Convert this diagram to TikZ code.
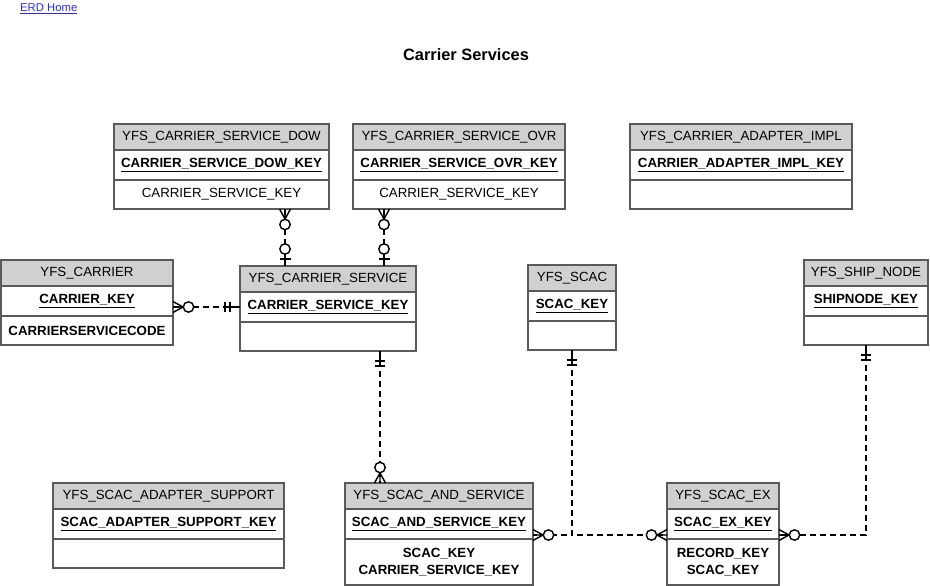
\documentclass[tikz,border=0pt]{standalone}
\usepackage{fontspec}
\setmainfont{Liberation Sans}
\usetikzlibrary{positioning}
\definecolor{headgray}{RGB}{208,208,208}
\definecolor{framegray}{RGB}{90,90,90}
\definecolor{linkblue}{RGB}{40,40,255}

% entity: name, top left, width, header, key, attributes, attribute height
\newcommand{\entity}[7]{%
  \node[enthead, minimum width=#3, anchor=north west] (#1) at (#2) {#4};
  \node[entkey, minimum width=#3, below=0pt of #1] (#1-key) {\underline{#5}};
  \node[entattr, minimum width=#3, minimum height=#7, below=0pt of #1-key] (#1-attr) {#6};}

% relationship ends: point on the entity edge, direction away from the entity
\newcommand{\zeromany}[2]{%
  \begin{scope}[shift={(#1)}, rotate=#2, x=1pt, y=1pt, markline]
    \draw (0,5.5) -- (10,0) -- (0,-5.5) (0,0) -- (10,0);
    \draw[fill=white] (15.5,0) circle (5.2pt);
  \end{scope}}
\newcommand{\zeroone}[2]{%
  \begin{scope}[shift={(#1)}, rotate=#2, x=1pt, y=1pt, markline]
    \draw (0,0) -- (12,0) (7,-5.5) -- (7,5.5);
    \draw[fill=white] (17,0) circle (5.2pt);
  \end{scope}}
\newcommand{\oneone}[2]{%
  \begin{scope}[shift={(#1)}, rotate=#2, x=1pt, y=1pt, markline]
    \draw (0,0) -- (16,0) (10,-5) -- (10,5) (15,-5) -- (15,5);
  \end{scope}}

\begin{document}
\begin{tikzpicture}[
    x=1pt, y=-1pt,
    enthead/.style={rectangle, draw=framegray, fill=headgray, line width=1.2pt, minimum height=26pt, inner sep=2pt, outer sep=0pt, font=\fontsize{13.3}{16}\selectfont},
    entkey/.style={rectangle, draw=framegray, fill=white, line width=1.2pt, minimum height=30pt, inner sep=2pt, outer sep=0pt, font=\fontsize{13.3}{16}\selectfont\bfseries},
    entattr/.style={rectangle, draw=framegray, fill=white, line width=1.2pt, inner sep=2pt, outer sep=0pt, align=center, font=\fontsize{13.3}{17}\selectfont},
    rel/.style={line width=1.5pt, dash pattern=on 6pt off 4pt},
    markline/.style={solid, line width=1.4pt}
]
    \useasboundingbox (0,0) rectangle (930,586);

    % Link and title
    \node[anchor=west, inner sep=0pt, text=linkblue, font=\fontsize{11.3}{13}\selectfont] (home) at (20,9) {\underline{ERD Home}};
    \node[font=\fontsize{16.4}{20}\selectfont\bfseries] (title) at (466,55) {Carrier Services};

    % Entities
    \entity{dow}{114,124}{215pt}{YFS\_CARRIER\_SERVICE\_DOW}{CARRIER\_SERVICE\_DOW\_KEY}{CARRIER\_SERVICE\_KEY}{29pt}
    \entity{ovr}{353,124}{212pt}{YFS\_CARRIER\_SERVICE\_OVR}{CARRIER\_SERVICE\_OVR\_KEY}{CARRIER\_SERVICE\_KEY}{29pt}
    \entity{impl}{630,124}{222pt}{YFS\_CARRIER\_ADAPTER\_IMPL}{CARRIER\_ADAPTER\_IMPL\_KEY}{}{29pt}
    \entity{carrier}{1,260}{172pt}{YFS\_CARRIER}{CARRIER\_KEY}{\textbf{CARRIERSERVICECODE}}{29pt}
    \entity{cs}{240,266}{176pt}{YFS\_CARRIER\_SERVICE}{CARRIER\_SERVICE\_KEY}{}{29pt}
    \entity{scac}{528,265}{88pt}{YFS\_SCAC}{SCAC\_KEY}{}{29pt}
    \entity{ship}{804,260}{124pt}{YFS\_SHIP\_NODE}{SHIPNODE\_KEY}{}{29pt}
    \entity{sup}{53,483}{231pt}{YFS\_SCAC\_ADAPTER\_SUPPORT}{SCAC\_ADAPTER\_SUPPORT\_KEY}{}{29pt}
    \entity{sas}{345,483}{188pt}{YFS\_SCAC\_AND\_SERVICE}{SCAC\_AND\_SERVICE\_KEY}{\textbf{SCAC\_KEY}\\\textbf{CARRIER\_SERVICE\_KEY}}{46pt}
    \entity{ex}{667,483}{112pt}{YFS\_SCAC\_EX}{SCAC\_EX\_KEY}{\textbf{RECORD\_KEY}\\\textbf{SCAC\_KEY}}{46pt}

    % Connector ends
    \coordinate (dow-fk) at ([xshift=45pt]cs.north west |- dow-attr.south);
    \coordinate (cs-pk1) at ([xshift=45pt]cs.north west);
    \coordinate (ovr-fk) at ([xshift=144pt]cs.north west |- ovr-attr.south);
    \coordinate (cs-pk2) at ([xshift=144pt]cs.north west);
    \coordinate (car-fk) at (carrier-key.east |- cs-key.west);
    \coordinate (cs-pk3) at (cs-key.west);
    \coordinate (cs-pk4) at ([xshift=140pt]cs-attr.south west);
    \coordinate (sas-fk1) at (cs-pk4 |- sas.north);
    \coordinate (scac-pk) at (scac-attr.south);
    \coordinate (sas-fk2) at ([yshift=4pt]sas-key.south east);
    \coordinate (ex-fk1) at ([yshift=4pt]ex-key.south west);
    \coordinate (ship-pk) at (ship-attr.south);
    \coordinate (ex-fk2) at ([yshift=4pt]ex-key.south east);

    % Relationships
    \draw[rel] (dow-fk) -- (cs-pk1);
    \draw[rel] (ovr-fk) -- (cs-pk2);
    \draw[rel] (car-fk) -- (cs-pk3);
    \draw[rel] (cs-pk4) -- (sas-fk1);
    \draw[rel] (scac-pk) |- (sas-fk2);
    \draw[rel] (scac-pk) |- (ex-fk1);
    \draw[rel] (ship-pk) |- (ex-fk2);

    % Cardinality marks
    \zeromany{dow-fk}{-90}
    \zeroone{cs-pk1}{90}
    \zeromany{ovr-fk}{-90}
    \zeroone{cs-pk2}{90}
    \zeromany{car-fk}{0}
    \oneone{cs-pk3}{180}
    \oneone{cs-pk4}{-90}
    \zeromany{sas-fk1}{90}
    \oneone{scac-pk}{-90}
    \zeromany{sas-fk2}{0}
    \zeromany{ex-fk1}{180}
    \oneone{ship-pk}{-90}
    \zeromany{ex-fk2}{0}
\end{tikzpicture}
\end{document}
